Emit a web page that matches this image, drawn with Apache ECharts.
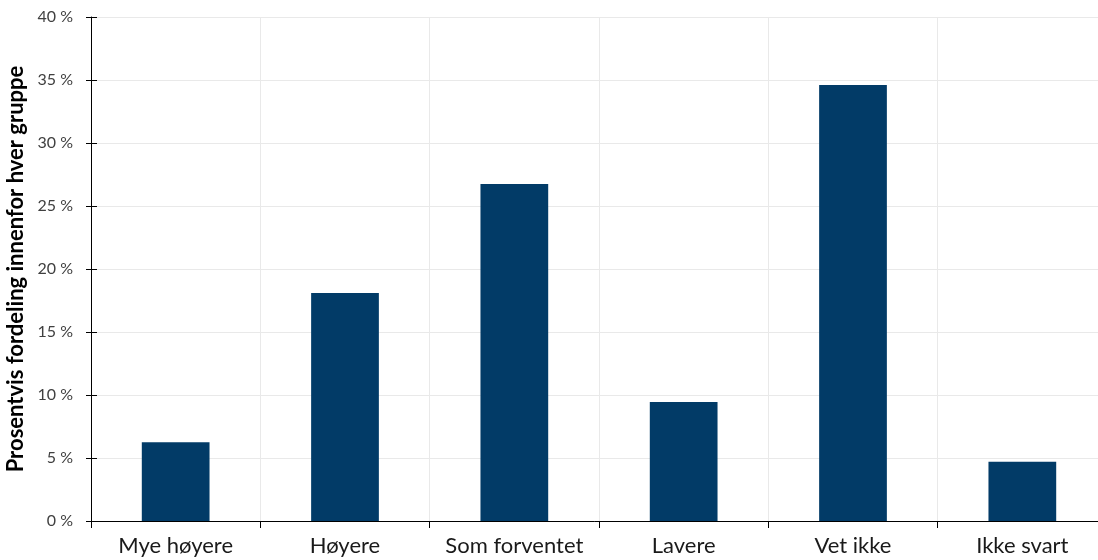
<!DOCTYPE html>
<html>
<head>
<meta charset="utf-8">
<script src="https://cdn.jsdelivr.net/npm/echarts@6/dist/echarts.min.js"></script>
<style>
  html, body { margin: 0; padding: 0; background: #ffffff; }
  #chart { width: 1098px; height: 560px; }
</style>
</head>
<body>
<div id="chart"></div>
<script>
// Answer categories along the x axis
const categories = ['Mye høyere', 'Høyere', 'Som forventet', 'Lavere', 'Vet ikke', 'Ikke svart'];
// Share of respondents in each category (percent)
const shares = [6.25, 18.1, 26.75, 9.45, 34.6, 4.7];
// Value axis range and step (percent)
const yMin = 0;
const yMax = 40;
const yStep = 5;
const yTitle = 'Prosentvis fordeling innenfor hver gruppe';

const FONT = 'Lato, "Open Sans", sans-serif';

const chart = echarts.init(document.getElementById('chart'), null, { renderer: 'canvas' });

const valueAxisBase = {
  type: 'value',
  min: yMin,
  max: yMax,
  interval: yStep
};

chart.setOption({
  animation: false,
  backgroundColor: '#ffffff',
  grid: {
    left: 91, top: 17, width: 1016, height: 504,
    containLabel: false,
    outerBoundsMode: 'none'
  },
  xAxis: {
    type: 'category',
    data: categories,
    boundaryGap: true,
    axisLine: { show: true, lineStyle: { color: '#000000', width: 1 } },
    axisTick: { show: true, interval: 0, alignWithLabel: false, length: 7, lineStyle: { color: '#000000', width: 1 } },
    axisLabel: { interval: 0, hideOverlap: false, color: '#1a1a1a', fontSize: 22, fontFamily: FONT, margin: 14 },
    splitLine: { show: true, interval: 0, lineStyle: { color: '#e9e9e9', width: 1 } }
  },
  yAxis: [
    Object.assign({}, valueAxisBase, {
      name: yTitle,
      nameLocation: 'middle',
      nameGap: 57,
      nameTextStyle: { color: '#000000', fontSize: 22, fontWeight: 'bold', fontFamily: FONT },
      axisLine: { show: true, lineStyle: { color: '#000000', width: 1 } },
      axisTick: { show: true, length: 5, lineStyle: { color: '#000000', width: 1 } },
      axisLabel: {
        color: '#404040', fontSize: 16, fontFamily: FONT, margin: 18,
        formatter: v => v + ' %'
      },
      splitLine: { show: true, lineStyle: { color: '#e9e9e9', width: 1 } }
    }),
    // inner half of the crossing tick marks
    Object.assign({}, valueAxisBase, {
      position: 'left',
      offset: 0,
      axisLine: { show: false },
      axisTick: { show: true, inside: true, length: 6, lineStyle: { color: '#000000', width: 1 } },
      axisLabel: { show: false },
      splitLine: { show: false }
    })
  ],
  series: [{
    type: 'bar',
    data: shares,
    barWidth: '40%',
    itemStyle: { color: '#023b67' }
  }]
});
</script>
</body>
</html>
